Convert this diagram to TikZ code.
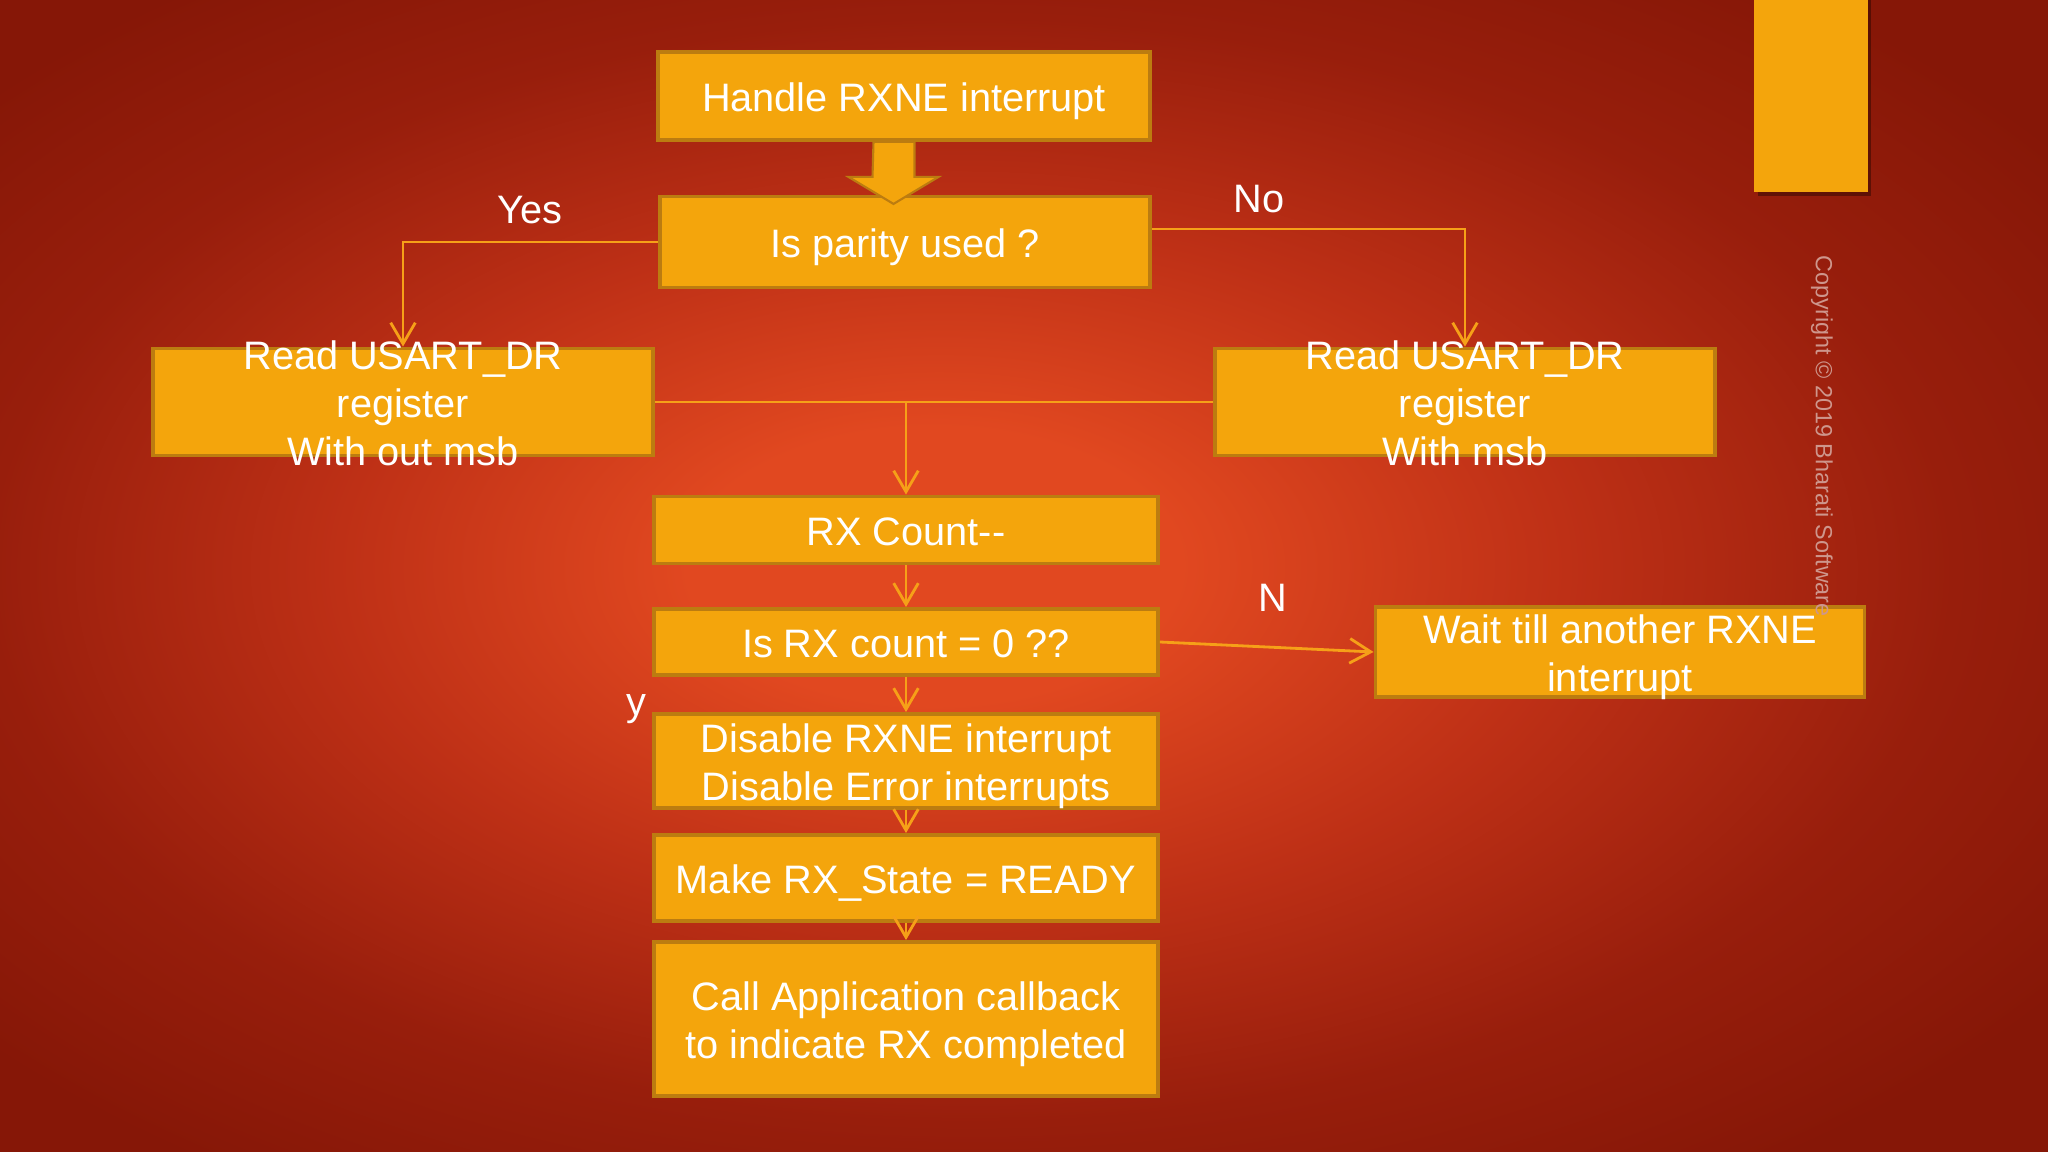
\documentclass[tikz,border=0pt]{standalone}
\usepackage{fontspec}
\setmainfont{Liberation Sans}
\usetikzlibrary{arrows.meta}

\definecolor{boxfill}{RGB}{244,165,12}
\definecolor{boxline}{RGB}{188,124,16}
\definecolor{wire}{RGB}{246,160,24}
\definecolor{bgcore}{RGB}{225,72,32}
\definecolor{bgmid}{RGB}{190,48,22}
\definecolor{bgdark}{RGB}{152,30,12}
\definecolor{bgedge}{RGB}{134,23,7}
\definecolor{copytext}{RGB}{206,150,140}

\pgfdeclareradialshading{slidebg}{\pgfpoint{-2.5bp}{0.5bp}}{color(0bp)=(bgcore); color(6bp)=(bgcore); color(15bp)=(bgmid); color(24bp)=(bgdark); color(32bp)=(bgedge); color(50bp)=(bgedge)}

\begin{document}
\begin{tikzpicture}[x=1cm,y=-1cm,
    stepbox/.style={draw=boxline, line width=1.1pt, fill=boxfill, text=white,
      align=center, inner sep=0pt, font=\fontsize{11.3}{13.7}\selectfont},
    oneline/.style={text height=0.31cm, text depth=0pt, inner ysep=-0.155cm},
    twolines/.style={text height=0.79cm, text depth=0pt, inner ysep=-0.395cm},
    threelines/.style={text height=1.27cm, text depth=0pt, inner ysep=-0.635cm},
    flow/.style={draw=wire, line width=0.8pt, -{Straight Barb[length=6pt,width=7pt]}},
    tag/.style={text=white, inner sep=0pt, font=\fontsize{11.3}{13.7}\selectfont}]
    \useasboundingbox (0,0) rectangle (20.48,11.52);
    \shade[shading=slidebg] (0,0) rectangle (20.48,11.52);
    % tab in the corner
    \fill[black, opacity=0.35] (17.58,0) rectangle (18.71,1.96);
    \fill[boxfill] (17.54,0) rectangle (18.68,1.92);

    \node[stepbox, oneline, minimum width=4.92cm, minimum height=0.88cm] (handle) at (9.04,0.96) {Handle RXNE interrupt};
    \node[stepbox, oneline, minimum width=4.90cm, minimum height=0.91cm] (parity) at (9.05,2.42) {Is parity used ?};
    \node[stepbox, threelines, minimum width=5.00cm, minimum height=1.07cm] (readL) at (4.03,4.02) {Read USART\_DR\\register\\With out msb};
    \node[stepbox, threelines, minimum width=5.00cm, minimum height=1.07cm] (readR) at (14.65,4.02) {Read USART\_DR\\register\\With msb};
    \node[stepbox, oneline, minimum width=5.04cm, minimum height=0.67cm] (count) at (9.06,5.30) {RX Count-{}-};
    \node[stepbox, oneline, minimum width=5.04cm, minimum height=0.66cm] (iszero) at (9.06,6.42) {Is RX count = 0 ??};
    \node[stepbox, twolines, minimum width=5.04cm, minimum height=0.94cm] (disable) at (9.06,7.61) {Disable RXNE interrupt\\Disable Error interrupts};
    \node[stepbox, oneline, minimum width=5.04cm, minimum height=0.86cm] (ready) at (9.06,8.78) {Make RX\_State = READY};
    \node[stepbox, twolines, minimum width=5.04cm, minimum height=1.54cm] (callback) at (9.06,10.19) {Call Application callback\\to indicate RX completed};
    \node[stepbox, twolines, minimum width=4.89cm, minimum height=0.90cm] (wait) at (16.20,6.52) {Wait till another RXNE\\interrupt};

    \node[rotate=-90, text=copytext, inner sep=0pt, font=\fontsize{6.65}{7}\selectfont] (copy) at (18.22,4.36) {Copyright © 2019 Bharati Software};

    % block arrow
    \filldraw[fill=boxfill, draw=boxline, line width=0.6pt] ([xshift=-0.305cm]handle.south) -- ++(0.41,0) -- ++(0,0.35) -- ++(0.24,0) -- ++(-0.45,0.27) -- ++(-0.45,-0.27) -- ++(0.24,0) -- cycle;

    \draw[flow] (parity.west) -| (readL.north);
    \draw[flow] ([yshift=0.13cm]parity.east) -| (readR.north);
    \draw[flow, -] (readL) -- (readR);
    \coordinate (join) at (count.north |- readL.east);
    \draw[flow] (join) -- (count);
    \draw[flow] (count) -- (iszero);
    \draw[flow] (iszero.east) -- (wait.west);
    \draw[flow] (iszero) -- (disable);
    \draw[flow] (disable) -- (ready);
    \draw[flow] (ready) -- (callback);

    \node[tag] (yes) at (5.30,2.10) {Yes};
    \node[tag] (no) at (12.59,1.99) {No};
    \node[tag] (nlab) at (12.73,5.98) {N};
    \node[tag] (ylab) at (6.36,7.09) {y};
\end{tikzpicture}
\end{document}
